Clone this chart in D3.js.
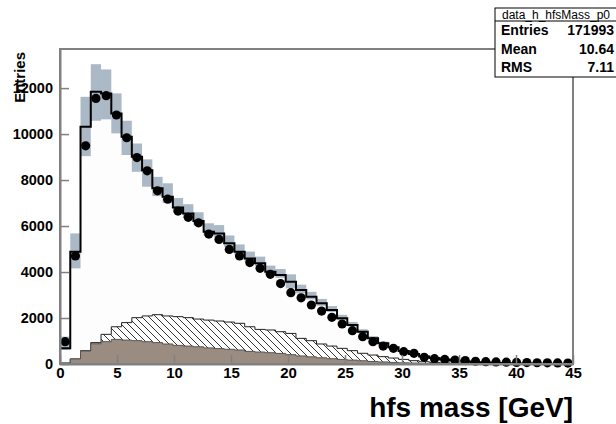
<!DOCTYPE html>
<html>
<head>
<meta charset="utf-8">
<script src="https://cdn.jsdelivr.net/npm/d3@7"></script>
<style>
  body { margin: 0; background: #fff; }
  text { font-family: "Liberation Sans", Arial, sans-serif; }
</style>
</head>
<body>
<div id="chart"></div>
<script>
var w = 616;
var h = 424;

// histogram bins: 50 bins of 0.9 GeV between 0 and 45
var binWidth = 0.9;

var dataCounts = [970, 4700, 9490, 11550, 11670, 10830, 9840, 8980, 8400, 7530,
                  7170, 6650, 6380, 6140, 5650, 5420, 4985, 4700, 4410, 4160,
                  3900, 3500, 3100, 2880, 2565, 2300, 2030, 1740, 1450, 1190,
                  970, 780, 680, 535, 465, 290, 230, 200, 170, 150,
                  120, 100, 90, 80, 70, 60, 55, 50, 45, 40];

var mcTotal = [680, 4880, 10320, 11840, 11770, 10900, 9880, 9010, 8430, 7640,
               7270, 6810, 6550, 6220, 5750, 5680, 5250, 4880, 4590, 4380,
               4010, 3870, 3580, 3220, 2930, 2640, 2350, 1990, 1700, 1400,
               1120, 900, 725, 565, 435, 330, 260, 200, 150, 110,
               80, 60, 45, 35, 25, 20, 15, 10, 8, 5];

var bandHigh = [1190, 5680, 11620, 13040, 12810, 11770, 10580, 9590, 8900, 8140,
                7860, 7220, 6950, 6600, 6120, 6040, 5590, 5200, 4890, 4670,
                4280, 4130, 3900, 3450, 3140, 2830, 2520, 2140, 1830, 1510,
                1210, 970, 780, 610, 470, 360, 280, 215, 160, 120,
                90, 65, 50, 40, 28, 22, 17, 12, 9, 6];

var bandLow = [610, 4160, 9040, 10580, 10640, 10030, 9090, 8360, 7710, 7300,
               7000, 6600, 6350, 6030, 5580, 5510, 5090, 4730, 4450, 4250,
               3890, 3750, 3290, 3070, 2810, 2530, 2260, 1910, 1630, 1340,
               1080, 860, 700, 540, 420, 315, 250, 190, 143, 105,
               76, 57, 43, 33, 24, 19, 14, 9, 7, 4];

// lowest stacked background (brown)
var bkgBrown = [40, 220, 565, 880, 970, 1070, 1040, 1015, 970, 930,
                870, 810, 780, 750, 700, 670, 640, 610, 550, 520,
                490, 460, 405, 350, 310, 270, 230, 200, 170, 140,
                110, 90, 70, 50, 40, 30, 20, 15, 10, 8,
                6, 5, 4, 3, 2, 2, 1, 1, 1, 0];

// top of the hatched background, stacked on the brown one
var bkgHatchedTop = [40, 220, 580, 930, 1290, 1620, 1800, 2015, 2090, 2145,
                     2090, 2060, 2015, 1955, 1910, 1870, 1825, 1770, 1620, 1505,
                     1480, 1405, 1330, 1115, 1015, 870, 780, 680, 580, 465,
                     390, 320, 260, 200, 145, 100, 70, 50, 35, 25,
                     18, 12, 9, 6, 4, 3, 2, 2, 1, 1];

var xTicks = [0, 5, 10, 15, 20, 25, 30, 35, 40, 45];
var yTicks = [0, 2000, 4000, 6000, 8000, 10000, 12000];

var statsTitle = "data_h_hfsMass_p0";
var statsLabels = ["Entries", "Mean", "RMS"];
var statsValues = ["171993", "10.64", "7.11"];

var xTitle = "hfs mass [GeV]";
var yTitle = "Entries";

var x = d3.scaleLinear().domain([0, 45]).range([60, 573]);
var y = d3.scaleLinear().domain([0, 13700]).range([364, 49]);

var svg = d3.select("#chart").append("svg")
            .attr("width", w)
            .attr("height", h);

var defs = svg.append("defs");
var pat = defs.append("pattern")
              .attr("id", "hatch")
              .attr("patternUnits", "userSpaceOnUse")
              .attr("width", 7)
              .attr("height", 7);
pat.append("rect").attr("width", 7).attr("height", 7).attr("fill", "#fff");
pat.append("path")
   .attr("d", "M-1.75,5.25 L1.75,8.75 M0,0 L7,7 M5.25,-1.75 L8.75,1.75")
   .attr("stroke", "#000")
   .attr("stroke-width", 0.8);

// step points for a histogram array
function stepPoints(vals) {
  var pts = [[0, 0]];
  vals.forEach(function(v, i) {
    pts.push([i * binWidth, v]);
    pts.push([(i + 1) * binWidth, v]);
  });
  pts.push([vals.length * binWidth, 0]);
  return pts;
}

var stepLine = d3.line()
                 .x(function(d) { return x(d[0]); })
                 .y(function(d) { return y(d[1]); });

var stepArea = d3.area()
                 .curve(d3.curveStepAfter)
                 .x(function(d) { return x(d.x); })
                 .y0(function(d) { return y(d.lo); })
                 .y1(function(d) { return y(d.hi); });

function areaRows(lo, hi) {
  var rows = hi.map(function(v, i) {
    return { x: i * binWidth, lo: lo ? lo[i] : 0, hi: v };
  });
  rows.push({ x: hi.length * binWidth, lo: lo ? lo[hi.length - 1] : 0, hi: hi[hi.length - 1] });
  return rows;
}

// MC total fill (nearly white)
svg.append("path")
   .attr("d", stepLine(stepPoints(mcTotal)))
   .attr("fill", "#fdfdfd")
   .attr("stroke", "none");

// hatched background
svg.append("path")
   .attr("d", stepArea(areaRows(bkgBrown, bkgHatchedTop)))
   .attr("fill", "url(#hatch)");
svg.append("path")
   .attr("d", stepLine(stepPoints(bkgHatchedTop)))
   .attr("fill", "none")
   .attr("stroke", "#222")
   .attr("stroke-width", 1);

// brown background
svg.append("path")
   .attr("d", stepArea(areaRows(null, bkgBrown)))
   .attr("fill", "#9b8c81");
svg.append("path")
   .attr("d", stepLine(stepPoints(bkgBrown)))
   .attr("fill", "none")
   .attr("stroke", "#555")
   .attr("stroke-width", 1);

// MC uncertainty band
svg.selectAll("rect.band")
   .data(bandHigh)
   .enter()
   .append("rect")
   .attr("class", "band")
   .attr("x", function(d, i) { return x(i * binWidth); })
   .attr("width", function(d, i) { return x((i + 1) * binWidth) - x(i * binWidth); })
   .attr("y", function(d) { return y(d); })
   .attr("height", function(d, i) { return y(bandLow[i]) - y(d); })
   .attr("fill", "#abb9c6");

// MC total outline
svg.append("path")
   .attr("d", stepLine(stepPoints(mcTotal)))
   .attr("fill", "none")
   .attr("stroke", "#000")
   .attr("stroke-width", 2);

// data points
svg.selectAll("circle.data")
   .data(dataCounts)
   .enter()
   .append("circle")
   .attr("class", "data")
   .attr("cx", function(d, i) { return x((i + 0.5) * binWidth); })
   .attr("cy", function(d) { return y(d); })
   .attr("r", 4.6)
   .attr("fill", "#000");

// frame
svg.append("rect")
   .attr("x", x(0))
   .attr("y", y(13700))
   .attr("width", x(45) - x(0))
   .attr("height", y(0) - y(13700))
   .attr("fill", "none")
   .attr("stroke", "#808080")
   .attr("stroke-width", 2);

// axes, ticks pointing inwards
var yAxis = d3.axisLeft(y).tickValues(yTicks).tickFormat(d3.format("d"))
              .tickSizeInner(-9).tickSizeOuter(0).tickPadding(7);
var yMinor = d3.axisLeft(y).ticks(27).tickSizeInner(-5).tickSizeOuter(0).tickFormat("");
var xAxis = d3.axisBottom(x).tickValues(xTicks).tickFormat(d3.format("d"))
              .tickSizeInner(-9).tickSizeOuter(0).tickPadding(3.5);
var xMinor = d3.axisBottom(x).ticks(45).tickSizeInner(-5).tickSizeOuter(0).tickFormat("");

var gy = svg.append("g").attr("transform", "translate(" + x(0) + ",0)");
gy.call(yMinor);
gy.call(yAxis);
var gx = svg.append("g").attr("transform", "translate(0," + y(0) + ")");
gx.call(xMinor);
gx.call(xAxis);

svg.selectAll(".domain").attr("stroke", "#808080").attr("stroke-width", 2);
svg.selectAll(".tick line").attr("stroke", "#808080").attr("stroke-width", 1.5);
gy.selectAll("text").style("font-size", "14.5px").style("font-weight", "bold").attr("fill", "#000");
gx.selectAll("text").style("font-size", "15px").style("font-weight", "bold").attr("fill", "#000");

// axis titles
svg.append("text")
   .attr("transform", "translate(25,52) rotate(-90)")
   .attr("text-anchor", "end")
   .style("font-size", "15px")
   .style("font-weight", "bold")
   .text(yTitle);

svg.append("text")
   .attr("x", 573)
   .attr("y", 417)
   .attr("text-anchor", "end")
   .style("font-size", "28px")
   .style("font-weight", "bold")
   .text(xTitle);

// stats box
var stats = svg.append("g");
stats.append("rect")
     .attr("x", 495).attr("y", 8)
     .attr("width", 125).attr("height", 69)
     .attr("fill", "#fff")
     .attr("stroke", "#000")
     .attr("stroke-width", 1);
stats.append("line")
     .attr("x1", 495).attr("x2", 620)
     .attr("y1", 21).attr("y2", 21)
     .attr("stroke", "#000");
stats.append("text")
     .attr("x", 556).attr("y", 18.5)
     .attr("text-anchor", "middle")
     .style("font-size", "12px")
     .text(statsTitle);
stats.selectAll("text.lab")
     .data(statsLabels)
     .enter()
     .append("text")
     .attr("class", "lab")
     .attr("x", 501)
     .attr("y", function(d, i) { return 35 + i * 18.5; })
     .style("font-size", "14px")
     .style("font-weight", "bold")
     .text(function(d) { return d; });
stats.selectAll("text.val")
     .data(statsValues)
     .enter()
     .append("text")
     .attr("class", "val")
     .attr("x", 614)
     .attr("y", function(d, i) { return 35 + i * 18.5; })
     .attr("text-anchor", "end")
     .style("font-size", "14px")
     .style("font-weight", "bold")
     .text(function(d) { return d; });
</script>
</body>
</html>
